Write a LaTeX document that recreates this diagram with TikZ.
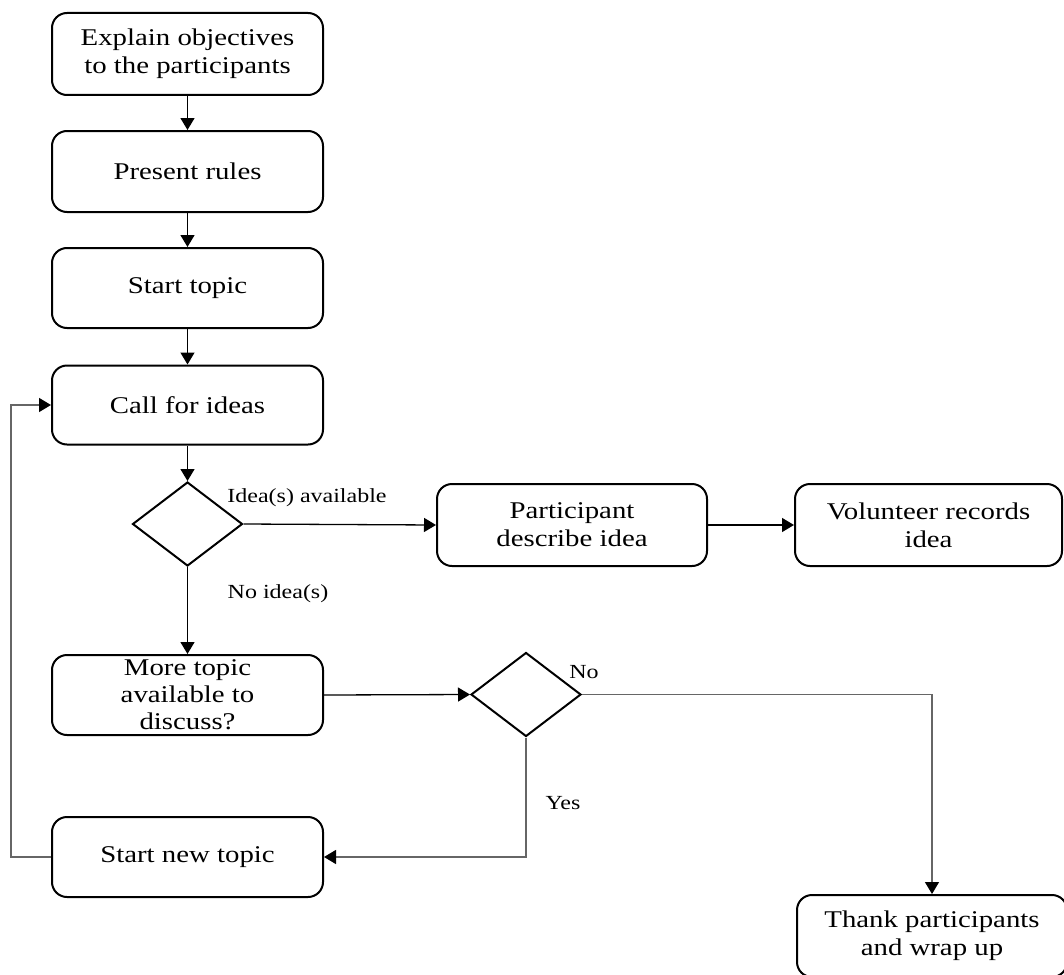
\documentclass[tikz,border=0pt]{standalone}
\usepackage{fontspec}
\setmainfont{Liberation Serif}[FakeStretch=1.2]
\usetikzlibrary{shapes.geometric,arrows.meta}

\begin{document}
\begin{tikzpicture}[x=0.5pt,y=-0.5pt,
  box/.style={draw=black, line width=1pt, rounded corners=7.5pt,
    minimum width=135.5pt, minimum height=40.5pt, align=center,
    inner sep=0pt, font=\fontsize{12pt}{14pt}\selectfont},
  tall/.style={font=\fontsize{12pt}{13.5pt}\selectfont},
  decision/.style={draw=black, line width=1pt, shape=diamond,
    minimum width=55pt, minimum height=42pt, inner sep=0pt},
  flow/.style={draw=black, line width=0.65pt,
    -{Triangle[length=6pt,width=7pt,color=black]}},
  flowgray/.style={flow, draw=black!60},
  tag/.style={font=\fontsize{10pt}{12pt}\selectfont, inner sep=0pt}]

\clip (0,0) rectangle (1064,974);
\fill[white] (0,0) rectangle (1064,974);

% main column
\node[box, minimum height=41pt] (explain) at (187.5,54) {Explain objectives\\to the participants};
\node[box] (rules)   at (187.5,171.5) {Present rules};
\node[box, minimum height=40pt] (start) at (187.5,288) {Start topic};
\node[box, minimum height=39.5pt] (call) at (187.5,405) {Call for ideas};
\node[decision] (ideas) at (187.5,524) {};
\node[box, tall, minimum height=40pt] (more) at (187.5,695) {More topic\\available to\\discuss?};
\node[box, minimum height=40pt] (newtopic) at (187.5,857) {Start new topic};

% idea branch
\node[box, minimum width=135pt, minimum height=41pt] (describe) at (572,525) {Participant\\describe idea};
\node[box, minimum width=133.5pt, minimum height=41pt] (record) at (928.5,525) {Volunteer records\\idea};

% topic decision and end
\node[decision] (topics) at (526,694.5) {};
\node[box, minimum width=135pt, minimum height=41pt] (thank) at (932,936) {Thank participants\\and wrap up};

% connectors
\draw[flow] (explain) -- (rules);
\draw[flow] (rules) -- (start);
\draw[flow] (start) -- (call);
\draw[flow] (call) -- (ideas);
\draw[flow] (ideas.east) -- (describe.west);
\draw[flow] (describe) -- (record);
\draw[flow] (ideas.south) -- (more.north);
\draw[flow] (more.east) -- (topics.west);
\draw[flowgray] (topics.east) -| (thank.north);
\draw[flowgray] (topics.south) |- (newtopic.east);
\draw[flowgray] (newtopic.west) -- ++(-40,0) |- (call.west);

% branch labels
\node[tag] (lblavail) at (307,498) {Idea(s) available};
\node[tag] (lblnoidea) at (278,594) {No idea(s)};
\node[tag] (lblno) at (584,672) {No};
\node[tag] (lblyes) at (563,803) {Yes};
\end{tikzpicture}
\end{document}
